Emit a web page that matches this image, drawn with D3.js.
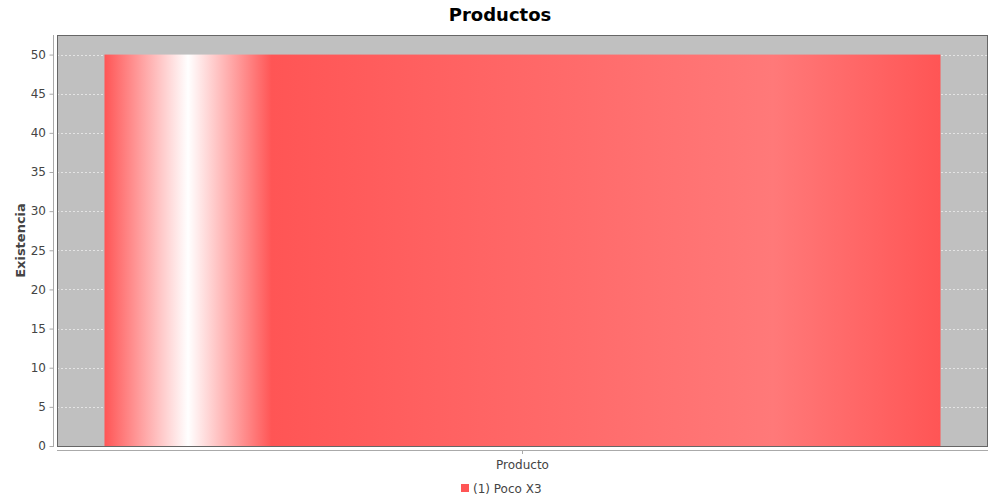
<!DOCTYPE html>
<html><head><meta charset="utf-8">
<script src="https://cdn.jsdelivr.net/npm/d3@7"></script>
<style>body{margin:0;background:#fff}svg{display:block}</style>
</head><body>
<svg id="c" width="1000" height="500"></svg>
<script>
const title = "Productos";
const categories = ["Producto"];
const seriesNames = ["(1) Poco X3"];
const values = [50];
const yTicks = [0,5,10,15,20,25,30,35,40,45,50];
const yLabel = "Existencia";

const svg = d3.select("#c");
const font = "'DejaVu Sans', sans-serif";
const L = 57, R = 988, T = 35, B = 446;

const y = d3.scaleLinear().domain([0, 52.5]).range([B, T]);
const x = d3.scaleBand().domain(categories).range([L, R]).paddingInner(0).paddingOuter(0.0568);

// gradient
const base = "#ff5555", bright = "#ff7979";
const defs = svg.append("defs");
const g = defs.append("linearGradient").attr("id","bg").attr("x1","0").attr("x2","1").attr("y1","0").attr("y2","0");
[[0,base],[0.10,"#ffffff"],[0.20,base],[0.80,bright],[1,base]].forEach(([o,c])=>g.append("stop").attr("offset",o).attr("stop-color",c));

svg.append("text").attr("x",500).attr("y",21).attr("text-anchor","middle")
  .attr("font-family",font).attr("font-weight","bold").attr("font-size",18).text(title);

svg.append("rect").attr("x",L).attr("y",T).attr("width",R-L).attr("height",B-T).attr("fill","#c0c0c0");

svg.append("g").selectAll("line").data(yTicks).join("line")
  .attr("x1",L).attr("x2",R).attr("y1",d=>Math.round(y(d))+0.5).attr("y2",d=>Math.round(y(d))+0.5)
  .attr("stroke","#e4e4e4").attr("stroke-width",1).attr("stroke-dasharray","2,2");

svg.append("g").selectAll("rect").data(values).join("rect")
  .attr("x",(d,i)=>x(categories[i])).attr("width",x.bandwidth())
  .attr("y",d=>y(d)).attr("height",d=>B-y(d)).attr("fill","url(#bg)");

svg.append("rect").attr("x",L+0.5).attr("y",T+0.5).attr("width",R-L-1).attr("height",B-T).attr("fill","none").attr("stroke","#666").attr("stroke-width",1);

// y axis
const ya = svg.append("g").attr("transform","translate(53,0)")
  .call(d3.axisLeft(y).tickValues(yTicks).tickSize(4).tickPadding(3));
ya.select(".domain").attr("d",`M0.5,${T}V${B+1}`).attr("stroke","#aaa");
ya.selectAll(".tick line").attr("stroke","#aaa").attr("transform","translate(0.5,0)");
ya.selectAll("text").attr("font-family",font).attr("font-size",12).attr("fill","#444");

// x axis
const xa = svg.append("g").attr("transform","translate(0,450)")
  .call(d3.axisBottom(x).tickSize(4).tickPadding(6));
xa.select(".domain").attr("d",`M${L},0.5H${R}`).attr("stroke","#aaa");
xa.selectAll(".tick line").attr("stroke","#aaa");
xa.selectAll("text").attr("font-family",font).attr("font-size",12).attr("fill","#444");

svg.append("text").attr("transform",`translate(25,${(T+B)/2}) rotate(-90)`).attr("text-anchor","middle")
  .attr("font-family",font).attr("font-weight","bold").attr("font-size",13).attr("fill","#444").text(yLabel);

// legend
const lg = svg.append("g");
lg.append("rect").attr("x",461).attr("y",484).attr("width",8).attr("height",8).attr("fill",base);
lg.append("text").attr("x",473).attr("y",493).attr("font-family",font).attr("font-size",12).attr("fill","#444").text(seriesNames[0]);
</script>
</body></html>
